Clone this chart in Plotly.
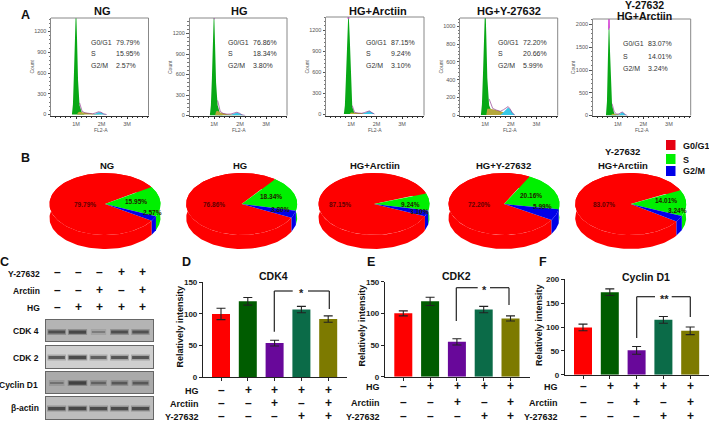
import plotly.graph_objects as go
import numpy as np

W, H = 709, 422
FONT = "Liberation Sans"

# ---------- data: panel A histograms (x in millions FL2-A, counts) ----------
hist_phases = ["G0/G1", "S", "G2/M"]
hist_ng_pct = ["79.79%", "15.95%", "2.57%"]
hist_hg_pct = ["76.86%", "18.34%", "3.80%"]
hist_ha_pct = ["87.15%", "9.24%", "3.10%"]
hist_hy_pct = ["72.20%", "20.66%", "5.99%"]
hist_yh_pct = ["83.07%", "14.01%", "3.24%"]

hist_ng_x = [0.84, 0.88, 0.92, 0.96, 1.00, 1.04, 1.08, 1.14, 1.24, 1.35, 1.50, 1.65, 1.78, 1.88, 1.98, 2.08, 2.20, 3.80]
hist_ng_g1 = [0, 150, 600, 1150, 1600, 1100, 500, 130, 15, 0, 0, 0, 0, 0, 0, 0, 0, 0]
hist_ng_s = [0, 0, 0, 0, 0, 0, 30, 38, 32, 24, 14, 10, 8, 5, 3, 0, 0, 0]
hist_ng_g2 = [0, 0, 0, 0, 0, 0, 0, 0, 0, 0, 0, 0, 16, 34, 30, 10, 0, 0]

hist_hg_x = [0.84, 0.88, 0.92, 0.96, 1.00, 1.04, 1.08, 1.14, 1.24, 1.35, 1.50, 1.65, 1.78, 1.88, 1.98, 2.08, 2.20, 3.80]
hist_hg_g1 = [0, 150, 550, 1100, 1600, 1050, 480, 150, 15, 0, 0, 0, 0, 0, 0, 0, 0, 0]
hist_hg_s = [0, 0, 0, 0, 0, 0, 60, 70, 45, 30, 20, 14, 10, 6, 3, 0, 0, 0]
hist_hg_g2 = [0, 0, 0, 0, 0, 0, 0, 0, 0, 0, 0, 8, 30, 42, 30, 10, 0, 0]

hist_ha_x = [0.72, 0.76, 0.80, 0.85, 0.90, 0.95, 1.00, 1.05, 1.14, 1.28, 1.42, 1.52, 1.62, 1.72, 1.82, 1.92, 3.80]
hist_ha_g1 = [0, 120, 500, 1100, 1500, 1100, 520, 100, 5, 0, 0, 0, 0, 0, 0, 0, 0]
hist_ha_s = [0, 0, 0, 0, 0, 0, 22, 20, 18, 14, 10, 8, 4, 2, 0, 0, 0]
hist_ha_g2 = [0, 0, 0, 0, 0, 0, 0, 0, 0, 0, 0, 12, 30, 42, 20, 0, 0]

hist_hy_x = [0.84, 0.88, 0.92, 0.97, 1.01, 1.05, 1.09, 1.16, 1.30, 1.45, 1.60, 1.72, 1.82, 1.90, 1.98, 2.06, 2.16, 3.80]
hist_hy_g1 = [0, 120, 450, 950, 1300, 900, 420, 110, 10, 0, 0, 0, 0, 0, 0, 0, 0, 0]
hist_hy_s = [0, 0, 0, 0, 0, 0, 70, 72, 64, 55, 42, 30, 20, 10, 5, 0, 0, 0]
hist_hy_g2 = [0, 0, 0, 0, 0, 0, 0, 0, 0, 0, 0, 30, 65, 85, 62, 25, 0, 0]

hist_yh_x = [0.54, 0.58, 0.62, 0.66, 0.70, 0.74, 0.78, 0.86, 0.95, 1.05, 1.12, 1.18, 1.24, 1.30, 1.38, 3.80]
hist_yh_g1 = [0, 300, 1300, 2200, 1400, 700, 220, 50, 0, 0, 0, 0, 0, 0, 0, 0]
hist_yh_s = [0, 0, 0, 0, 0, 0, 40, 40, 30, 20, 12, 6, 2, 0, 0, 0]
hist_yh_g2 = [0, 0, 0, 0, 0, 0, 0, 0, 0, 15, 50, 70, 50, 15, 0, 0]

# ---------- data: panel B pies ----------
pie_titles = ["NG", "HG", "HG+Arctiin", "HG+Y-27632", "HG+Arctiin"]
pie_g1 = [79.79, 76.86, 87.15, 72.20, 83.07]
pie_s = [15.95, 18.34, 9.24, 20.16, 14.01]
pie_g2 = [2.57, 3.80, 3.10, 5.99, 3.24]
pie_phases = ["G0/G1", "S", "G2/M"]

# ---------- data: panel C blots ----------
blot_names = ["CDK 4", "CDK 2", "Cyclin D1", "β-actin"]
blot_cdk4 = [0.85, 0.9, 0.4, 0.85, 0.8]
blot_cdk2 = [0.8, 0.95, 0.75, 0.85, 0.85]
blot_cyclin = [0.45, 0.95, 0.6, 0.7, 0.7]
blot_actin = [0.9, 0.95, 0.9, 0.9, 0.9]
sign_y27632 = ["–", "–", "–", "+", "+"]
sign_arctiin = ["–", "–", "+", "–", "+"]
sign_hg = ["–", "+", "+", "+", "+"]

# ---------- data: panels D-F bars ----------
cdk4_val = [100, 120, 54, 107, 92]
cdk4_err = [9, 6, 4.5, 5, 5]
cdk2_val = [100, 119, 55, 106, 92]
cdk2_err = [4, 6.5, 5, 5, 4]
cyclin_val = [99, 173, 51, 115, 92]
cyclin_err = [7, 7, 8, 7, 8]
bar_colors = ["#fe0000", "#005c00", "#68089a", "#0b6b48", "#7d7a00"]

# ---------- layout helpers ----------
traces, shapes, annots = [], [], []
layout = {}
axn = [0]


def px(x):
    return x / W


def py(y):
    return 1 - y / H


def text(x, y, s, size=9, color="#111", bold=True, anchor="center", angle=0, family=FONT):
    annots.append(dict(x=px(x), y=py(y), xref="paper", yref="paper", text=s, showarrow=False,
                       xanchor=anchor, yanchor="middle", textangle=angle,
                       font=dict(size=size, color=color, family=family, weight=700 if bold else 400)))


def line(x0, y0, x1, y1, color="#222", width=1.2):
    shapes.append(dict(type="line", xref="paper", yref="paper", x0=px(x0), y0=py(y0), x1=px(x1), y1=py(y1),
                       line=dict(color=color, width=width)))


def axes(l, t, r, b, xa, ya):
    axn[0] += 1
    n = axn[0]
    s = "" if n == 1 else str(n)
    xa = dict(xa, domain=[px(l), px(r)], anchor="y" + s, automargin=False)
    ya = dict(ya, domain=[py(b), py(t)], anchor="x" + s, automargin=False)
    layout["xaxis" + s] = xa
    layout["yaxis" + s] = ya
    return "x" + s, "y" + s


# ---------- panel A ----------
hist_sets = [
    (hist_ng_x, hist_ng_g1, hist_ng_s, hist_ng_g2, hist_ng_pct),
    (hist_hg_x, hist_hg_g1, hist_hg_s, hist_hg_g2, hist_hg_pct),
    (hist_ha_x, hist_ha_g1, hist_ha_s, hist_ha_g2, hist_ha_pct),
    (hist_hy_x, hist_hy_g1, hist_hy_s, hist_hy_g2, hist_hy_pct),
    (hist_yh_x, hist_yh_g1, hist_yh_s, hist_yh_g2, hist_yh_pct),
]
# l, r, top, y0px, ypx of tick max, tick max, dtick, x1M, x2M
hist_geo = [
    (51, 148.5, 18, 114.5, 31.5, 1200, 300, 76, 101.5),
    (189.5, 287, 18, 115.5, 33.5, 1200, 300, 214, 240),
    (326, 424, 17, 114, 30, 1200, 300, 351, 376.5),
    (460, 557.7, 18, 115, 26.5, 1000, 200, 485, 510.7),
    (592.7, 690.7, 19, 115.5, 24.5, 2000, 500, 617.7, 643.3),
]
txt_geo = [(89, 114, 53), (226, 251, 53), (364, 389, 53), (496, 521, 53), (621, 646, 55)]
for i, ((x, g1, s, g2, pct), g) in enumerate(zip(hist_sets, hist_geo)):
    l, r, t, y0, ym, ymax, dt, x1, x2 = g
    ppm = x2 - x1
    xr = [(l - x1) / ppm + 1, (r - x1) / ppm + 1]
    upp = ymax / (y0 - ym)
    yr = [-(115.5 - y0) * upp, (y0 - t) * upp]
    xa = dict(range=xr, tickvals=[1, 2, 3], ticktext=["1M", "2M", "3M"], ticks="outside", ticklen=2.5, tickwidth=0.8,
              tickcolor="#333", showgrid=False, zeroline=False, showline=True, linecolor="#333", linewidth=1,
              mirror=False, tickfont=dict(size=5.5, color="#555", family=FONT),
              minor=dict(ticks="outside", dtick=0.2, ticklen=1.2, tickcolor="#333", tickwidth=0.5))
    ya = dict(range=yr, tickvals=list(range(0, ymax + 1, dt)), ticks="outside", ticklen=2.5, tickwidth=0.8,
              tickcolor="#555", showgrid=False, zeroline=False, showline=True, linecolor="#888", linewidth=1,
              tickfont=dict(size=5.5, color="#555", family=FONT),
              minor=dict(ticks="outside", dtick=dt / 5, ticklen=1.2, tickcolor="#777", tickwidth=0.5))
    xn, yn = axes(l, t, r, 115.5, xa, ya)
    shapes.append(dict(type="path", xref="paper", yref="paper",
                       path=f"M {px(l)} {py(t)} L {px(r)} {py(t)} L {px(r)} {py(115.5)}",
                       line=dict(color="#888", width=1)))
    for vals, col in ((g1, "#08a815"), (s, "#b5a83a"), (g2, "#36c8e8")):
        traces.append(go.Scatter(x=x, y=vals, xaxis=xn, yaxis=yn, mode="lines", fill="tozeroy", fillcolor=col,
                                 line=dict(width=0), hoverinfo="skip", showlegend=False))
    total = [a + b + c for a, b, c in zip(g1, s, g2)]
    peak = total.index(max(total))
    # short magenta tip at the top of the clipped G0/G1 peak
    tip = 0.35
    tx = [x[peak] + tip * (x[peak - 1] - x[peak]), x[peak], x[peak] + tip * (x[peak + 1] - x[peak])]
    ty_ = [total[peak] + tip * (total[peak - 1] - total[peak]), total[peak], total[peak] + tip * (total[peak + 1] - total[peak])]
    traces.append(go.Scatter(x=tx, y=ty_, xaxis=xn, yaxis=yn, mode="lines",
                             line=dict(color="#e030e0", width=0.9), hoverinfo="skip", showlegend=False))
    traces.append(go.Scatter(x=x[peak + 3:-1], y=total[peak + 3:-1], xaxis=xn, yaxis=yn, mode="lines",
                             line=dict(color="#802080", width=0.6), hoverinfo="skip", showlegend=False))
    tx0, tx1, ty = txt_geo[i]
    for k in range(3):
        text(tx0, ty - 11 + k * 12, hist_phases[k], size=7, color="#333", bold=False, anchor="left")
        text(tx1, ty - 11 + k * 12, pct[k], size=7, color="#333", bold=False, anchor="left")
    text(l - 19.5, 67, "Count", size=5, color="#555", bold=False, angle=-90)
    text(x2 - 1, 130, "FL2-A", size=5, color="#555", bold=False)

text(102, 11, "NG", size=11)
text(240, 11, "HG", size=11)
text(378, 11, "HG+Arctiin", size=11)
text(509, 11, "HG+Y-27632", size=11)
text(644, 5.5, "Y-27632", size=10.5)
text(644, 15.5, "HG+Arctiin", size=10.5)

# ---------- panel B ----------
pie_cx = [105, 241.7, 374, 504, 630.7]
pie_cy = 204
A, B, DEPTH = 55.5, 31, 14
pie_start = [34, 53.5, 21, 63, 27.6]
lab_g1 = [(85, 204.5), (214.5, 204.5), (340, 204.5), (479, 204.5), (604, 204.5)]
lab_s = [(135.7, 201.7), (270.7, 196.7), (410, 205), (531, 195), (665.7, 200.7)]
lab_g2 = [(152.7, 212.3), (280, 209.3), (419, 211.7), (542.7, 206.7), (677, 210.7)]
pie_cols = ["#fe0000", "#00f000", "#0000e8"]
for i in range(5):
    cx = pie_cx[i]
    xn, yn = axes(cx - 60, pie_cy - 36, cx + 60, pie_cy + 50,
                  dict(range=[-60 / A, 60 / A], visible=False, fixedrange=True),
                  dict(range=[-50 / B, 36 / B], visible=False, fixedrange=True))
    a0 = pie_start[i]
    a1 = a0 - pie_s[i] * 3.6
    a2 = a1 - pie_g2[i] * 3.6
    a3 = a0 - 360
    spans = [(a2, a3, 0), (a0, a1, 1), (a1, a2, 2)]
    d = DEPTH / B
    for s, e, c in spans:
        th = np.radians(np.linspace(s, e, 120))
        xs = np.cos(th)
        ys = np.sin(th)
        traces.append(go.Scatter(x=np.r_[xs, xs[::-1]], y=np.r_[ys, ys[::-1] - d], xaxis=xn, yaxis=yn, mode="lines",
                                 fill="toself", fillcolor=pie_cols[c], line=dict(width=0), hoverinfo="skip",
                                 showlegend=False))
    for s, e, c in spans:
        th = np.radians(np.linspace(s, e, 120))
        traces.append(go.Scatter(x=np.r_[0, np.cos(th), 0], y=np.r_[0, np.sin(th), 0], xaxis=xn, yaxis=yn,
                                 mode="lines", fill="toself", fillcolor=pie_cols[c], line=dict(width=0),
                                 hoverinfo="skip", showlegend=False))
    for (lx, ly), v in zip((lab_g1[i], lab_s[i], lab_g2[i]), (pie_g1[i], pie_s[i], pie_g2[i])):
        text(lx, ly, f"{v:.2f}%", size=6.5, color="#202000" if v < 50 else "#600000")
pie_tx = [107, 240, 375, 503.5, 623]
for i in range(5):
    text(pie_tx[i], 165 + (0.5 if i == 3 else 0), pie_titles[i], size=9.5)
text(622, 151.5, "Y-27632", size=9.5)
for k, (yy, c) in enumerate(zip((145, 159, 171), ("#e60012", "#00f000", "#0000e8"))):
    shapes.append(dict(type="rect", xref="paper", yref="paper", x0=px(666), x1=px(675.5), y0=py(yy - 5), y1=py(yy + 5),
                       fillcolor=c, line=dict(width=0)))
    text(681, yy + 0.5, pie_phases[k], size=9, anchor="left")

# ---------- panel letters ----------
for lt, (x, y) in {"A": (25.5, 15), "B": (25.5, 158), "C": (4.5, 262), "D": (187, 262), "E": (371, 262),
                   "F": (542.5, 262)}.items():
    text(x, y, lt, size=12.5)

# ---------- panel C ----------
lane_x = [56.7, 77.5, 98.5, 119.5, 140.5]
blot_geo = [(320, 341, 332, "#b4b4b4"), (346, 368, 357.5, "#cfcfcf"), (372, 393, 383, "#aaaaaa"), (397, 419, 408.5, "#bdbdbd")]
blot_vals = [blot_cdk4, blot_cdk2, blot_cyclin, blot_actin]
for (t, b, c, bg), vals in zip(blot_geo, blot_vals):
    xn, yn = axes(45.5, t, 153, b,
                  dict(range=[45.5, 153], visible=True, showticklabels=False, ticks="", showgrid=False, zeroline=False,
                       showline=True, mirror=True, linecolor="#666", linewidth=1),
                  dict(range=[b, t], showticklabels=False, ticks="", showgrid=False, zeroline=False,
                       showline=True, mirror=True, linecolor="#666", linewidth=1))
    shapes.append(dict(type="rect", xref=xn + " domain", yref=yn + " domain", x0=0, x1=1, y0=0, y1=1, fillcolor=bg,
                       line=dict(width=0), layer="below"))
    for lx, v in zip(lane_x, vals):
        hw = 5 + 4 * v
        traces.append(go.Scatter(x=[lx - hw - 1, lx + hw + 1], y=[c, c], xaxis=xn, yaxis=yn, mode="lines",
                                 line=dict(color=f"rgba(40,40,40,{0.3 * v:.2f})", width=6), hoverinfo="skip", showlegend=False))
        traces.append(go.Scatter(x=[lx - hw, lx + hw], y=[c, c], xaxis=xn, yaxis=yn, mode="lines",
                                 line=dict(color=f"rgba(30,30,30,{0.7 * v:.2f})", width=1 + 2.5 * v), hoverinfo="skip", showlegend=False))
for name, yy, sg in (("Y-27632", 273.5, sign_y27632), ("Arctiin", 291, sign_arctiin), ("HG", 308, sign_hg)):
    text(42, yy, name, size=8.5, anchor="right")
    for lx, ch in zip([57.7, 78.5, 99, 121, 142], sg):
        text(lx, yy - 1.5, ch, size=12)
for nm, r, yy in zip(blot_names, (41, 41, 40, 41), (331, 357.5, 385, 408)):
    text(r, yy, nm, size=8.5, anchor="right")

# ---------- panels D-F ----------
bar_geo = [
    (203, 346.7, 282.3, 377.3, 150, 50, 221, 26.8),
    (385, 530, 281.7, 376.7, 150, 50, 403.3, 26.8),
    (565, 709, 279.3, 374.7, 200, 50, 583, 26.8),
]
bar_data = [(cdk4_val, cdk4_err), (cdk2_val, cdk2_err), (cyclin_val, cyclin_err)]
for (l, r, t, b, ymax, dt, c0, step), (val, err) in zip(bar_geo, bar_data):
    xa = dict(range=[(l - c0) / step, (r - c0) / step], tickvals=list(range(5)), ticktext=[""] * 5, ticks="outside",
              ticklen=3, tickwidth=1.2, tickcolor="#222", showgrid=False, zeroline=False, showline=True,
              linecolor="#222", linewidth=1.2)
    ya = dict(range=[0, ymax], tickvals=list(range(0, ymax + 1, dt)), ticks="outside", ticklen=3, tickwidth=1.2,
              tickcolor="#222", showgrid=False, zeroline=False, showline=True, linecolor="#222", linewidth=1.2,
              tickfont=dict(size=8, color="#222", family=FONT, weight=700))
    xn, yn = axes(l, t, r, b, xa, ya)
    traces.append(go.Bar(x=list(range(5)), y=val, width=18 / step, xaxis=xn, yaxis=yn, marker=dict(color=bar_colors, line=dict(width=0)),
                         error_y=dict(type="data", array=err, visible=True, color="#222", thickness=1.1, width=4.5),
                         hoverinfo="skip", showlegend=False))

for x, y, s in ((273, 275.5, "CDK4"), (456.7, 276, "CDK2"), (645.7, 276.5, "Cyclin D1")):
    text(x, y, s, size=10.5)
for x, y in ((179.5, 327), (361, 325.5), (538.5, 325.5)):
    text(x, y, "Relatively intensity", size=9, angle=-90)

centers = [[221, 248, 274.7, 301.7, 328.3], [403.3, 430.3, 457.3, 484, 510.7], [583, 610, 636.7, 663.7, 690.3]]
rows = [((390.7, 404, 416.5), 200.7), ((387.3, 403.2, 416.5), 381.7), ((387, 403.2, 416.5), 560)]
for cs, (ys, r) in zip(centers, rows):
    for nm, yy, sg in zip(("HG", "Arctiin", "Y-27632"), ys, (sign_hg, sign_arctiin, sign_y27632)):
        text(r, yy, nm, size=9, anchor="right")
        for cx, ch in zip(cs, sg):
            text(cx, yy - 1, ch, size=12)

# brackets
for xl, yl, ytop, xg0, xg1, xr, yr, star, xs in (
    (274.3, 331.7, 291, 292.7, 308, 329.3, 309, "*", 301),
    (456.3, 321, 287.7, 477.7, 490, 509, 305, "*", 484),
    (636.7, 338, 296.7, 655, 671.7, 690.3, 317, "**", 664),
):
    line(xl, yl, xl, ytop)
    line(xl, ytop, xg0, ytop)
    line(xg1, ytop, xr, ytop)
    line(xr, ytop, xr, yr)
    text(xs, ytop + 2, star, size=11, color="#222")

layout.update(width=W, height=H, margin=dict(l=0, r=0, t=0, b=0), paper_bgcolor="white", plot_bgcolor="white",
              shapes=shapes, annotations=annots, showlegend=False, barmode="overlay",
              font=dict(family=FONT))
fig = go.Figure(data=traces, layout=layout)
fig.write_html("out.html", config=dict(displayModeBar=False, responsive=False),
               post_script="document.body.style.margin='0';document.body.style.overflow='hidden';")
